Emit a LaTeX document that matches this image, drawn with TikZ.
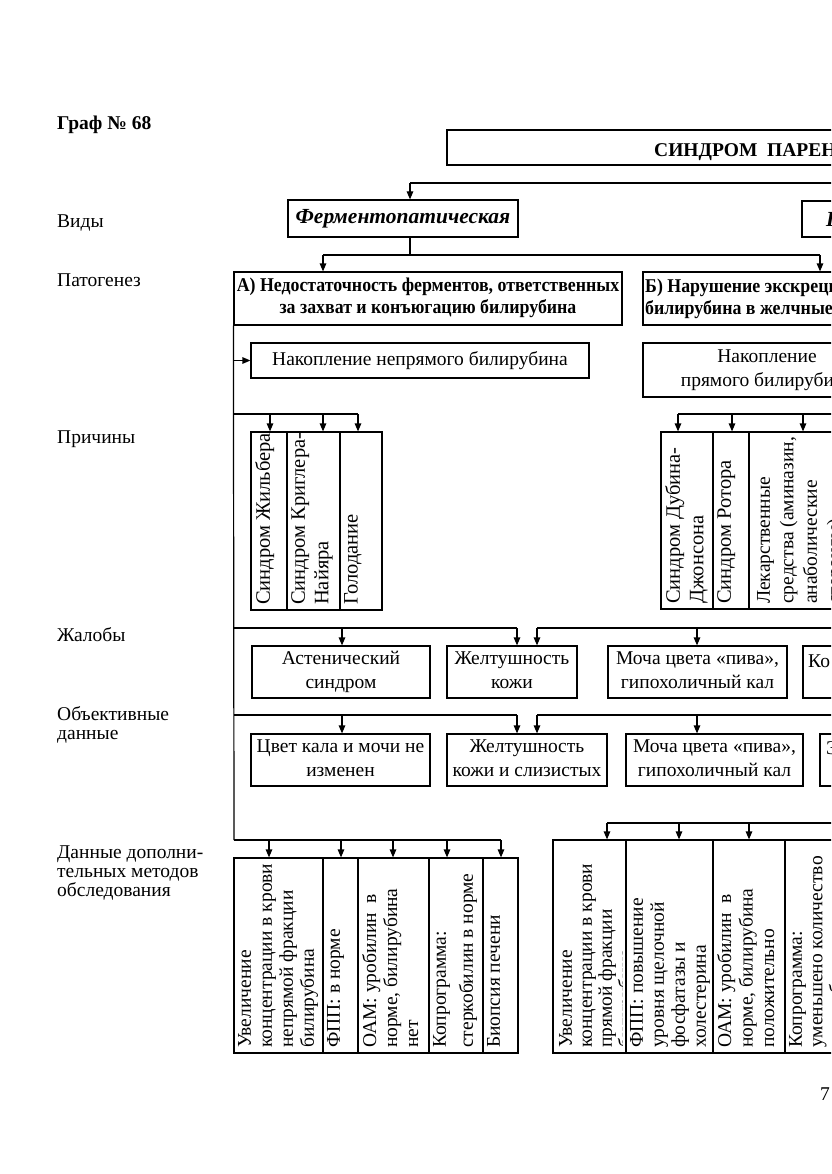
\documentclass[tikz,border=0pt]{standalone}
\usepackage{fontspec}
\setmainfont{Liberation Serif}
\newfontfamily\condb{Liberation Serif}[FakeStretch=0.915]
\usetikzlibrary{arrows.meta}
\newcommand\bx[7][]{\node[box,#1,minimum width={(#5-#3)*1pt},minimum height={(#6-#4)*1pt}] (#2) at ({(#3+#5)/2},{(#4+#6)/2}) {\strut#7\strut};}
\newcommand\drop[3]{\coordinate (#1) at (#2); \draw[arr] (#1) -- (#1 |- #3.north);}
\begin{document}
\begin{tikzpicture}[x=1pt,y=-1pt,
  txt/.style={font=\fontsize{19.5}{23}\selectfont, inner sep=0pt},
  lbl/.style={font=\fontsize{19.5}{19}\selectfont, inner sep=0pt, align=left, anchor=base west},
  box/.style={draw, line width=1.2pt, inner sep=0pt, align=center, font=\fontsize{19.5}{23.5}\selectfont},
  rot/.style={rotate=90, anchor=north west, align=left, inner sep=0pt, font=\fontsize{19.5}{21}\selectfont},
  rotc/.style={rot, font=\fontsize{20.5}{23.5}\selectfont},
  ln/.style={line width=1.2pt},
  arr/.style={line width=1.2pt, -{Triangle[length=8pt,width=6.5pt]}}]
\useasboundingbox (0,0) rectangle (831,1174);
\clip (0,0) rectangle (831,1174);

% left labels
\node[lbl, font=\fontsize{19.5}{19}\selectfont\bfseries] (graf) at (57,130) {Граф № 68};
\node[lbl] (l-vid) at (57,228) {Виды};
\node[lbl] (l-pat) at (57,286) {Патогенез};
\node[lbl] (l-pri) at (57,443) {Причины};
\node[lbl] (l-zha) at (57,641) {Жалобы};
\node[lbl, anchor=north west] (l-obj) at (57,706) {Объективные\\данные};
\node[lbl, anchor=north west] (l-dan) at (57,846) {Данные дополни-\\тельных методов\\обследования};

% top
\bx{mainbox}{447}{130}{1100}{165}{}
\node[txt, anchor=base west, font=\fontsize{19.5}{23}\selectfont\bfseries] (maintxt) at (654,157) {СИНДРОМ\ \ ПАРЕНХИМАТОЗНОЙ};
\bx[font=\fontsize{21.5}{23}\selectfont\bfseries\itshape]{ferm}{288}{200}{518}{237}{Ферментопатическая}
\bx{vid2}{802}{201}{1100}{237}{}
\node[txt, anchor=base west, font=\fontsize{21.5}{23}\selectfont\bfseries\itshape] (vid2t) at (826,226) {Гепатоцеллюлярная};
\coordinate (h0r) at (840,183);
\drop{h0}{410,183}{ferm}
\draw[ln] (h0r) -- (h0);

% pathogenesis
\bx[font=\fontsize{19.5}{22}\selectfont\condb\bfseries]{boxA}{234}{272}{622}{325}{А) Недостаточность ферментов, ответственных\\за захват и конъюгацию билирубина}
\bx{boxB}{643}{272}{1100}{325}{}
\node[txt, anchor=north west, align=left, font=\fontsize{19.5}{22}\selectfont\condb\bfseries] (boxBt) at (645,279) {Б) Нарушение экскреции прямого\\билирубина в желчные капилляры};
\coordinate (fv) at (410,255);
\draw[ln] (fv |- ferm.south) -- (fv);
\drop{pa}{323,255}{boxA}
\drop{pb}{820,255}{boxB}
\draw[ln] (pa) -- (pb);

\bx{nak1}{251}{343}{589}{378}{Накопление непрямого билирубина}
\bx{nak2}{643}{343}{891}{397}{Накопление\\прямого билирубина}
\coordinate (trunkend) at (234,840);
\draw[ln] (boxA.south west) -- (trunkend);
\draw[arr] (boxA.south west |- nak1.west) -- (nak1.west);

% causes left
\bx{c1}{251}{432}{287}{610}{}
\bx{c2}{287}{432}{340}{610}{}
\bx{c3}{340}{432}{382}{610}{}
\node[rotc] (c1t) at (255,605) {Синдром Жильбера};
\node[rotc] (c2t) at (291,605) {Синдром Криглера-\\Найяра};
\node[rotc] (c3t) at (344,605) {Голодание};
\coordinate (k0) at (234,414);
\drop{k1}{270,414}{c1}
\drop{k2}{323,414}{c2}
\drop{k3}{358,414}{c3}
\draw[ln] (k0) -- (k3);

% causes right
\bx{d1}{661}{432}{713}{609}{}
\bx{d2}{713}{432}{749}{609}{}
\bx{d3}{749}{432}{1000}{609}{}
\node[rotc] (d1t) at (665,604) {Синдром Дубина-\\Джонсона};
\node[rotc] (d2t) at (717,604) {Синдром Ротора};
\node[rot, font=\fontsize{19.5}{23.5}\selectfont] (d3t) at (757,604) {Лекарственные\\средства (аминазин,\\анаболические\\стероиды)};
\coordinate (m0) at (840,414);
\drop{m1}{678,414}{d1}
\drop{m2}{732,414}{d2}
\drop{m3}{803,414}{d3}
\draw[ln] (m1) -- (m0);

% complaints
\bx{j1}{252}{646}{430}{698}{Астенический\\синдром}
\bx{j2}{447}{646}{577}{698}{Желтушность\\кожи}
\bx{j3}{608}{646}{787}{698}{Моча цвета «пива»,\\гипохоличный кал}
\bx{j4}{803}{646}{1000}{698}{}
\node[txt, anchor=base west] (j4t) at (808,667) {Ко};
\coordinate (q0) at (234,628);
\drop{q1}{342,628}{j1}
\drop{q2}{517,628}{j2}
\draw[ln] (q0) -- (q2);
\drop{q3}{537,628}{j2}
\drop{q4}{697,628}{j3}
\coordinate (q5) at (840,628);
\draw[ln] (q3) -- (q5);

% objective
\bx{o1}{251}{734}{430}{786}{Цвет кала и мочи не\\изменен}
\bx{o2}{447}{734}{607}{786}{Желтушность\\кожи и слизистых}
\bx{o3}{626}{734}{803}{786}{Моча цвета «пива»,\\гипохоличный кал}
\bx{o4}{820}{734}{1000}{786}{}
\node[txt, anchor=base west] (o4t) at (826,754) {Э};
\coordinate (s0) at (234,715);
\drop{s1}{342,715}{o1}
\drop{s2}{517,715}{o2}
\draw[ln] (s0) -- (s2);
\drop{s3}{537,715}{o2}
\drop{s4}{697,715}{o3}
\coordinate (s5) at (840,715);
\draw[ln] (s3) -- (s5);

% additional data left
\bx{b1}{234}{858}{323}{1053}{}
\bx{b2}{323}{858}{358}{1053}{}
\bx{b3}{358}{858}{429}{1053}{}
\bx{b4}{429}{858}{483}{1053}{}
\bx{b5}{483}{858}{518}{1053}{}
\node[rot] (b1t) at (238,1048) {Увеличение\\концентрации в крови\\непрямой фракции\\билирубина};
\node[rot] (b2t) at (327,1048) {ФПП: в норме};
\node[rot] (b3t) at (362,1048) {ОАМ: уробилин\ \ в\\норме, билирубина\\нет};
\node[rot, font=\fontsize{19.5}{27}\selectfont] (b4t) at (433,1048) {Копрограмма:\\стеркобилин в норме};
\node[rot] (b5t) at (487,1048) {Биопсия печени};
\coordinate (u0) at (234,840);
\drop{u1}{269,840}{b1}
\drop{u2}{341,840}{b2}
\drop{u3}{393,840}{b3}
\drop{u4}{447,840}{b4}
\drop{u5}{501,840}{b5}
\draw[ln] (u0) -- (u5);

% additional data right
\bx{r1}{553}{840}{626}{1053}{}
\bx{r2}{626}{840}{713}{1053}{}
\bx{r3}{713}{840}{785}{1053}{}
\bx{r4}{785}{840}{1000}{1053}{}
\begin{scope}
\clip (553,840) rectangle (622.5,1053);
\node[rot, font=\fontsize{19.5}{20}\selectfont] (r1t) at (559,1048) {Увеличение\\концентрации в крови\\прямой фракции\\билирубина};
\end{scope}
\node[rot] (r2t) at (630,1048) {ФПП: повышение\\уровня щелочной\\фосфатазы и\\холестерина};
\node[rot, font=\fontsize{19.5}{21.5}\selectfont] (r3t) at (717,1048) {ОАМ: уробилин\ \ в\\норме, билирубина\\положительно};
\node[rot, font=\fontsize{19.5}{20.5}\selectfont] (r4t) at (789,1048) {Копрограмма:\\уменьшено количество\\стеркобилина};
\drop{v1}{607,823}{r1}
\drop{v2}{679,823}{r2}
\drop{v3}{749,823}{r3}
\coordinate (v4) at (840,823);
\draw[ln] (v1) -- (v4);

\node[txt, anchor=base west] (page) at (820,1100) {7};
\end{tikzpicture}
\end{document}
